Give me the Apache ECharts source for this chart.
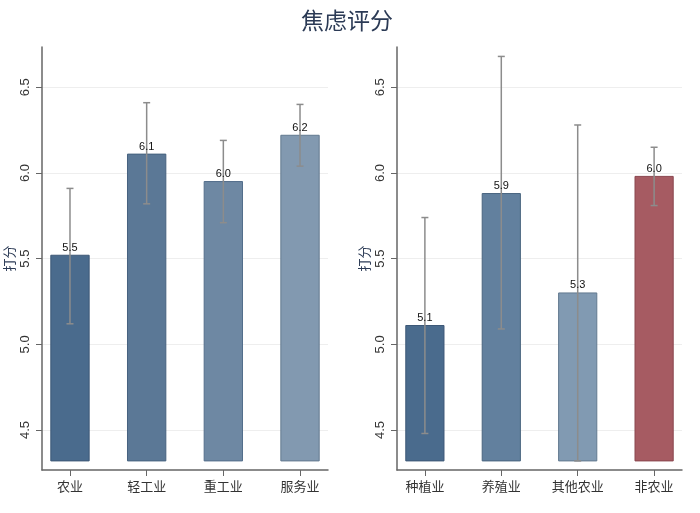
<!DOCTYPE html>
<html>
<head>
<meta charset="utf-8">
<script src="https://cdn.jsdelivr.net/npm/echarts@6/dist/echarts.min.js"></script>
<style>html,body{margin:0;padding:0;background:#fff;}#c{width:700px;height:513px;}</style>
</head>
<body>
<div id="c"></div>
<script>
// ---- data ----
const categoriesLeft = ['农业', '轻工业', '重工业', '服务业'];
const meansLeft = [5.52, 6.11, 5.95, 6.22];
const lowerLeft = [5.12, 5.82, 5.71, 6.04];
const upperLeft = [5.91, 6.41, 6.19, 6.40];

const categoriesRight = ['种植业', '养殖业', '其他农业', '非农业'];
const meansRight = [5.11, 5.88, 5.30, 5.98];
const lowerRight = [4.48, 5.09, 4.32, 5.81];
const upperRight = [5.74, 6.68, 6.28, 6.15];

const yTicks = [4.5, 5.0, 5.5, 6.0, 6.5];
const barBase = 4.32;
const yMin = 4.267, yMax = 6.735;

// ---- styles ----
const colorsLeft = ['#4a6b8d', '#5b7896', '#6e88a3', '#8299b0'];
const colorsRight = ['#4a6b8d', '#62809e', '#819ab2', '#a65b62'];
const bordersLeft = ['#3d5877', '#46627f', '#536e8b', '#62798f'];
const bordersRight = ['#3d5877', '#49657f', '#62798f', '#8a464e'];
const FONT = '"Liberation Sans", "Noto Sans CJK SC", sans-serif';
const BAR_W = 0.25; // half-width in category units

function makeData(means, lows, highs) {
  return means.map((m, i) => [i + 1, m, lows[i], highs[i]]);
}

function makeRender(colors, borders) {
  return function (params, api) {
    const idx = params.dataIndex;
    const x = api.value(0), m = api.value(1), lo = api.value(2), hi = api.value(3);
    const pTop = api.coord([x, m]);
    const pBase = api.coord([x, barBase]);
    const pLo = api.coord([x, lo]);
    const pHi = api.coord([x, hi]);
    const w = api.size([BAR_W * 2, 0])[0];
    const cap = 3.5;
    const ebStyle = { stroke: '#8c8c8c', lineWidth: 1.5 };
    return {
      type: 'group',
      children: [
        { type: 'rect', shape: { x: pTop[0] - w / 2, y: pTop[1], width: w, height: pBase[1] - pTop[1] },
          style: { fill: colors[idx], stroke: borders[idx], lineWidth: 1 } },
        { type: 'line', shape: { x1: pLo[0], y1: pLo[1], x2: pHi[0], y2: pHi[1] }, style: ebStyle },
        { type: 'line', shape: { x1: pHi[0] - cap, y1: pHi[1], x2: pHi[0] + cap, y2: pHi[1] }, style: ebStyle },
        { type: 'line', shape: { x1: pLo[0] - cap, y1: pLo[1], x2: pLo[0] + cap, y2: pLo[1] }, style: ebStyle },
        { type: 'text', style: { text: m.toFixed(1), x: pTop[0], y: pTop[1] - 2, align: 'center', verticalAlign: 'bottom',
            fontSize: 11, fontFamily: FONT, fill: '#111' } }
      ]
    };
  };
}

function xAxisFor(gridIndex, cats) {
  return {
    type: 'value', gridIndex: gridIndex, min: 0.635, max: 4.365,
    axisLine: { show: true, lineStyle: { color: '#666', width: 1.5 } },
    axisTick: { show: true, length: 6, customValues: [1, 2, 3, 4], lineStyle: { color: '#666' } },
    axisLabel: { customValues: [1, 2, 3, 4], formatter: v => cats[Math.round(v) - 1] || '',
      fontSize: 13, color: '#333', margin: 11, fontFamily: FONT },
    splitLine: { show: false }
  };
}

function yAxisFor(gridIndex) {
  return {
    type: 'value', gridIndex: gridIndex, min: yMin, max: yMax,
    name: '打分', nameLocation: 'middle', nameGap: 25,
    nameTextStyle: { fontSize: 13, color: '#2b3a55', fontFamily: FONT },
    axisLine: { show: true, lineStyle: { color: '#666', width: 1.5 } },
    axisTick: { show: true, length: 6, customValues: yTicks, lineStyle: { color: '#666' } },
    axisLabel: { customValues: yTicks, rotate: 90, formatter: v => Number(v).toFixed(1),
      fontSize: 13, color: '#333', margin: 10, fontFamily: FONT },
    splitLine: { show: true, lineStyle: { color: '#eeeeee', width: 1 } }
  };
}

const chart = echarts.init(document.getElementById('c'), null, { renderer: 'canvas' });
chart.setOption({
  animation: false,
  backgroundColor: '#fff',
  title: { text: '焦虑评分', left: 296, top: 6,
    textStyle: { fontSize: 23, fontWeight: 'normal', color: '#2b3a55', fontFamily: FONT } },
  grid: [
    { left: 42, top: 47, width: 286, height: 423, outerBoundsMode: 'none', containLabel: false },
    { left: 397, top: 47, width: 285, height: 423, outerBoundsMode: 'none', containLabel: false }
  ],
  xAxis: [xAxisFor(0, categoriesLeft), xAxisFor(1, categoriesRight)],
  yAxis: [yAxisFor(0), yAxisFor(1)],
  series: [
    { type: 'custom', xAxisIndex: 0, yAxisIndex: 0, renderItem: makeRender(colorsLeft, bordersLeft),
      data: makeData(meansLeft, lowerLeft, upperLeft), encode: { x: 0, y: 1 } },
    { type: 'custom', xAxisIndex: 1, yAxisIndex: 1, renderItem: makeRender(colorsRight, bordersRight),
      data: makeData(meansRight, lowerRight, upperRight), encode: { x: 0, y: 1 } }
  ]
});
</script>
</body>
</html>
